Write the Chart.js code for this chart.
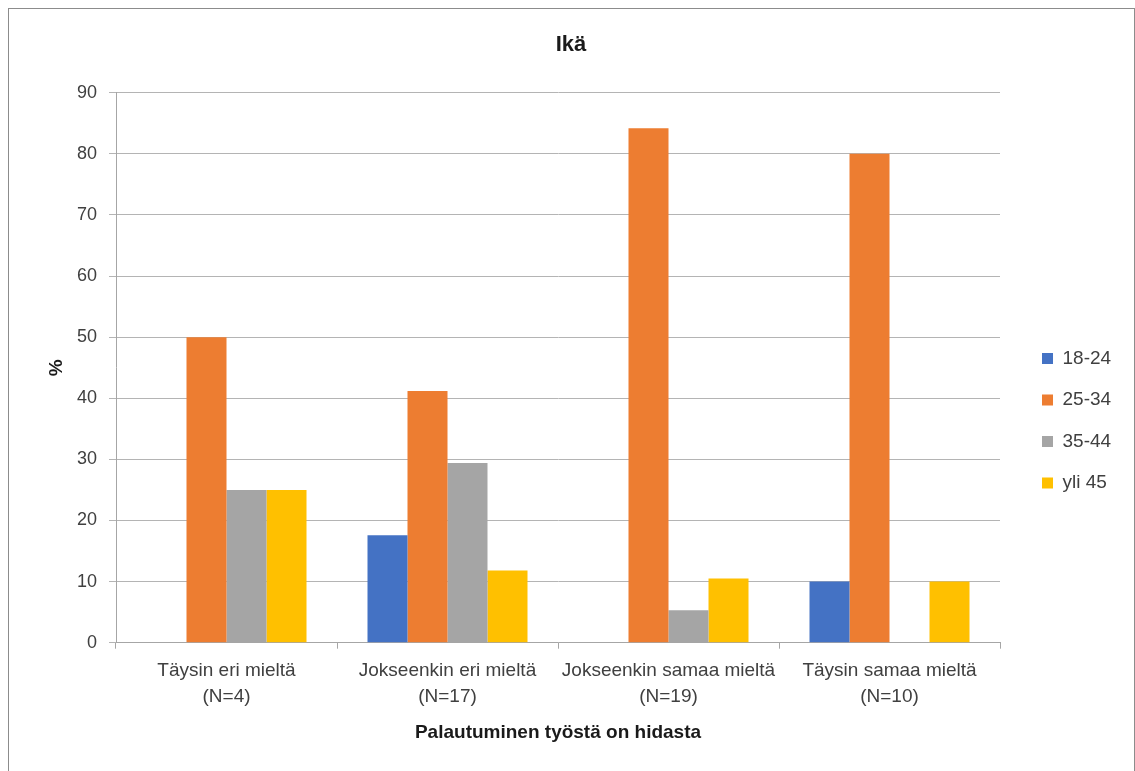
<!DOCTYPE html>
<html>
<head>
<meta charset="utf-8">
<script src="https://cdn.jsdelivr.net/npm/chart.js@4/dist/chart.umd.min.js"></script>
<style>
  html, body { margin: 0; padding: 0; background: #ffffff; }
  #wrap { position: relative; width: 1135px; height: 771px; overflow: hidden; }
  #frame { position: absolute; left: 8px; top: 8px; width: 1127px; height: 800px; box-sizing: border-box; border: 1px solid #8c8c8c; }
  #c { position: absolute; left: 0; top: 0; }
</style>
</head>
<body>
<div id="wrap">
  <div id="frame"></div>
  <canvas id="c" width="1135" height="771"></canvas>
</div>
<script>
const chartTitle = 'Ikä';
const xAxisTitle = 'Palautuminen työstä on hidasta';
const yAxisTitle = '%';
const categories = [
  ['Täysin eri mieltä', '(N=4)'],
  ['Jokseenkin eri mieltä', '(N=17)'],
  ['Jokseenkin samaa mieltä', '(N=19)'],
  ['Täysin samaa mieltä', '(N=10)']
];
const seriesNames = ['18-24', '25-34', '35-44', 'yli 45'];
const values1824 = [0, 17.6, 0, 10];
const values2534 = [50, 41.2, 84.2, 80];
const values3544 = [25, 29.4, 5.3, 0];
const valuesYli45 = [25, 11.8, 10.5, 10];
const seriesColors = ['#4472C4', '#ED7D31', '#A5A5A5', '#FFC000'];
const yMin = 0, yMax = 90, yStep = 10;

const FONT = "'Liberation Sans', Arial, sans-serif";
const seriesValues = [values1824, values2534, values3544, valuesYli45];

new Chart(document.getElementById('c'), {
  type: 'bar',
  data: {
    labels: categories,
    datasets: seriesNames.map((name, i) => ({
      label: name,
      data: seriesValues[i],
      backgroundColor: seriesColors[i],
      borderWidth: 0,
      categoryPercentage: 0.724,
      barPercentage: 1.0
    }))
  },
  options: {
    responsive: false,
    animation: false,
    layout: { padding: { left: 21, right: 13.9, top: 0, bottom: 0 } },
    plugins: {
      title: {
        display: true,
        text: chartTitle,
        color: '#1a1a1a',
        font: { family: FONT, size: 22, weight: 'bold', lineHeight: 1.2 },
        padding: { top: 31.4, bottom: 34.9 }
      },
      legend: {
        display: true,
        position: 'right',
        fullSize: false,
        align: 'center',
        title: { display: true, text: ' ', font: { family: FONT, size: 10, lineHeight: 1.2 }, padding: { top: 47, bottom: 47 } },
        labels: {
          boxWidth: 11,
          boxHeight: 11,
          padding: 22.5,
          color: '#404040',
          font: { family: FONT, size: 19 }
        }
      },
      tooltip: { enabled: false }
    },
    scales: {
      x: {
        type: 'category',
        offset: true,
        grid: { display: true, offset: true, drawOnChartArea: false, drawTicks: true, tickLength: 6, color: '#a6a6a6' },
        border: { display: true, color: '#a6a6a6' },
        ticks: {
          color: '#404040',
          font: { family: FONT, size: 19, lineHeight: 1.37 },
          padding: 8.7,
          maxRotation: 0,
          minRotation: 0,
          autoSkip: false
        },
        title: {
          display: true,
          text: xAxisTitle,
          color: '#1a1a1a',
          font: { family: FONT, size: 19, weight: 'bold', lineHeight: 1.2 },
          padding: { top: 0, bottom: 27.2 }
        },
        afterFit: (s) => { s.height = 128.3; }
      },
      y: {
        type: 'linear',
        position: 'left',
        min: yMin,
        max: yMax,
        grid: { display: true, drawTicks: true, tickLength: 7, color: '#b4b4b4' },
        border: { display: true, color: '#a6a6a6' },
        ticks: {
          stepSize: yStep,
          color: '#404040',
          font: { family: FONT, size: 18 },
          padding: 12
        },
        title: {
          display: true,
          text: yAxisTitle,
          color: '#1a1a1a',
          font: { family: FONT, size: 19, weight: 'bold', lineHeight: 1.2 },
          padding: { top: 24.6, bottom: 0 }
        },
        afterFit: (s) => { s.width = 95; }
      },
      spacer: {
        type: 'linear',
        position: 'right',
        display: true,
        grid: { display: false, drawTicks: false },
        border: { display: false },
        ticks: { display: false },
        afterFit: (s) => { s.width = 19.5; }
      }
    }
  }
});
</script>
</body>
</html>
